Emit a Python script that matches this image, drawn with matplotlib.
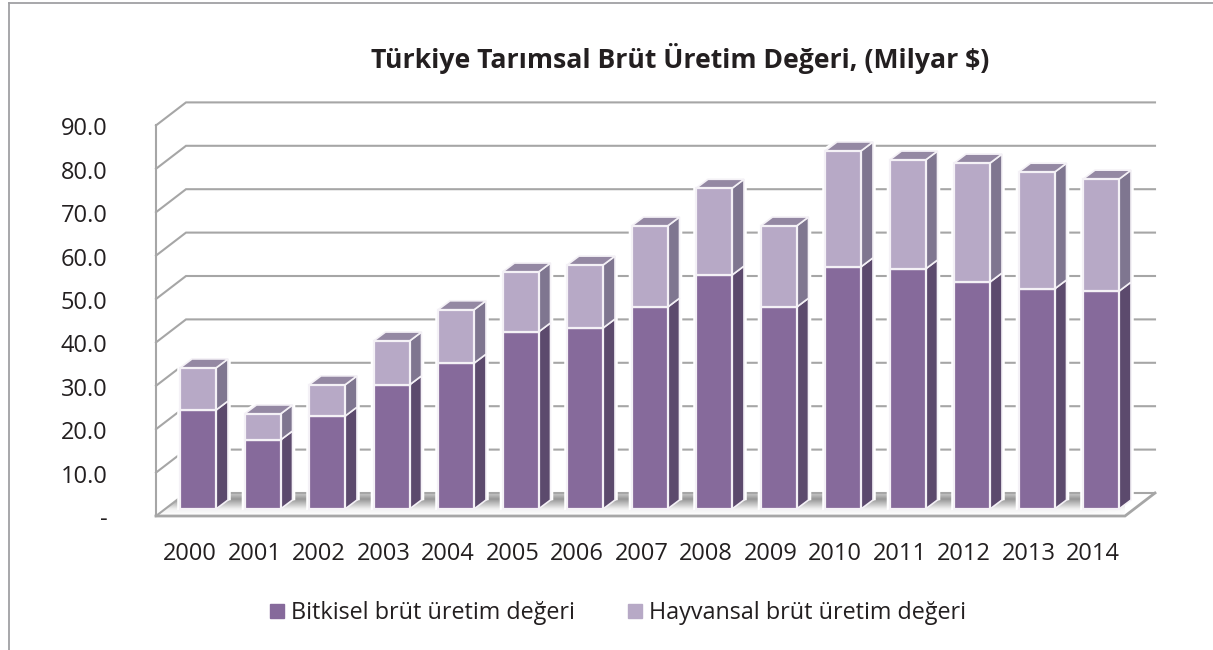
import matplotlib
matplotlib.use("Agg")
import matplotlib.pyplot as plt
import numpy as np
from matplotlib.lines import Line2D
from matplotlib.patches import Polygon
from matplotlib.transforms import ScaledTranslation

plt.rcParams['font.family'] = ['Open Sans', 'DejaVu Sans']

# chart values
years = ["2000", "2001", "2002", "2003", "2004", "2005", "2006", "2007",
         "2008", "2009", "2010", "2011", "2012", "2013", "2014"]
bitkisel = [22.8, 15.9, 21.4, 28.6, 33.6, 40.8, 41.7, 46.5,
            53.9, 46.5, 55.8, 55.3, 52.3, 50.7, 50.2]
hayvansal = [9.7, 6.0, 7.2, 10.1, 12.3, 13.8, 14.5, 18.7,
             20.0, 18.7, 26.7, 25.1, 27.4, 26.9, 25.8]
y_levels = [0, 10, 20, 30, 40, 50, 60, 70, 80, 90]
y_labels = ["-", "10.0", "20.0", "30.0", "40.0", "50.0", "60.0", "70.0", "80.0", "90.0"]
title = "Türkiye Tarımsal Brüt Üretim Değeri, (Milyar $)"
names = ["Bitkisel brüt üretim değeri", "Hayvansal brüt üretim değeri"]

# styles
W, H = 1213, 650
PX_X = 64.5      # pixels per category
PX_Y = 4.34      # pixels per value unit
BASE_PX = 509    # bar base row
DARK, DARK_SIDE = "#866a9b", "#5c4a6d"
LIGHT, LIGHT_SIDE, LIGHT_TOP = "#b7a9c6", "#7f7690", "#9488a3"
GRID = "#a6a6a6"
EDGE = "#f4f1f6"
TEXT = "#231f20"

fig = plt.figure(figsize=(W / 100, H / 100), dpi=100)
fig.patch.set_facecolor("white")

# plot area in pixels: floor front edge to the top of the back wall
left, right, bottom, top = 156, 1125, 516, 102
ax = fig.add_axes([left / W, 1 - bottom / H, (right - left) / W, (bottom - top) / H])
xlim = ((left - 198) / PX_X, (right - 198) / PX_X)
ylim = ((BASE_PX - bottom) / PX_Y, (BASE_PX - top) / PX_Y)
ax.patch.set_alpha(0)
for s in ax.spines.values():
    s.set_visible(False)

y0 = ylim[0]  # value coordinate of the front floor edge
x_lo, x_hi = xlim
wall_dx = 30 / PX_X
wall_dy = 23 / PX_Y

# floor shadow: gray band near the back, gone by the front edge and the right end
rows = np.interp(np.linspace(0, 23, 46), [0, 6, 16, 23], [0.28, 0.55, 0.07, 0.0])
fade = np.interp(np.linspace(left, right + 30, 400), [left, 1090, 1150, right + 30], [1, 1, 0.15, 0.1])
shade = np.zeros((46, 400, 4))
shade[..., :3] = 0.25
shade[..., 3] = np.outer(rows, fade)
floor = ax.imshow(shade, extent=(x_lo, x_hi + wall_dx, y0, y0 + wall_dy),
                  aspect="auto", origin="upper", zorder=1)
floor_poly = Polygon([(x_lo, y0), (x_lo + wall_dx, y0 + wall_dy),
                      (x_hi + wall_dx, y0 + wall_dy), (x_hi, y0)],
                     closed=True, fc="none", ec="none")
ax.add_patch(floor_poly)
floor.set_clip_path(floor_poly)
ax.set_xlim(xlim)
ax.set_ylim(ylim)

# back wall gridlines and left wall diagonals
for v in y_levels:
    yy = y0 + v
    ax.plot([x_lo, x_lo + wall_dx, x_hi + wall_dx], [yy, yy + wall_dy, yy + wall_dy],
            color=GRID, lw=1.5, clip_on=False, zorder=2, solid_joinstyle="miter")
ax.plot([x_lo, x_lo], [y0, y0 + 90], color=GRID, lw=1.5, clip_on=False, zorder=2)
ax.plot([x_lo, x_hi, x_hi + wall_dx], [y0, y0, y0 + wall_dy], color=GRID, lw=2, clip_on=False,
        zorder=2, solid_joinstyle="miter")

# bars
bw = 36 / PX_X
ddx = 12 / PX_X
ddy = 9 / PX_Y
x = np.arange(len(years))
bit = np.array(bitkisel)
hay = np.array(hayvansal)
ax.bar(x, bit, width=bw, color=DARK, edgecolor=EDGE, linewidth=1.6, zorder=5)
ax.bar(x, hay, width=bw, bottom=bit, color=LIGHT, edgecolor=EDGE, linewidth=1.6, zorder=5)


def side(xc, lo, hi, color):
    xr = xc + bw / 2
    ax.add_patch(Polygon([(xr, lo), (xr + ddx, lo + ddy), (xr + ddx, hi + ddy), (xr, hi)],
                         closed=True, fc=color, ec=EDGE, lw=1.2, zorder=4, clip_on=False))


for xc, a, b in zip(x, bit, hay):
    t = a + b
    xl, xr = xc - bw / 2, xc + bw / 2
    # white halo that interrupts the gridlines around each bar
    ax.add_patch(Polygon([(xl, 0.5), (xr + ddx, 0.5 + ddy), (xr + ddx, t + ddy), (xl + ddx, t + ddy), (xl, t)],
                         closed=True, fc="white", ec="white", lw=4, zorder=3, clip_on=False))
    side(xc, 0, a, DARK_SIDE)
    side(xc, a, t, LIGHT_SIDE)
    ax.add_patch(Polygon([(xl, t), (xr, t), (xr + ddx, t + ddy), (xl + ddx, t + ddy)],
                         closed=True, fc=LIGHT_TOP, ec=EDGE, lw=1.2, zorder=4, clip_on=False))

# axis labels
ax.set_xticks(x, years)
ax.set_yticks([y0 + v for v in y_levels], y_labels)
ax.tick_params(axis="x", length=0, pad=19, labelsize=17, labelcolor=TEXT)
ax.tick_params(axis="y", length=0, pad=35, labelsize=17, labelcolor=TEXT)
x_shift = ScaledTranslation(-8 / 100, 0, fig.dpi_scale_trans)
y_shift = ScaledTranslation(0, -1 / 100, fig.dpi_scale_trans)
for lab in ax.get_xticklabels():
    lab.set_transform(lab.get_transform() + x_shift)
for lab in ax.get_yticklabels():
    lab.set_transform(lab.get_transform() + y_shift)

fig.text(680 / W, 1 - 58 / H, title, fontsize=19.2, fontweight="bold",
         ha="center", va="center", color=TEXT)

handles = [Line2D([], [], ls="", marker="s", ms=9.4, color=DARK),
           Line2D([], [], ls="", marker="s", ms=9.4, color=LIGHT)]
fig.legend(handles, names, loc="center", bbox_to_anchor=(618 / W, 1 - 613 / H), ncol=2,
           frameon=False, fontsize=16.8, handlelength=0.6, handletextpad=0.3,
           columnspacing=2.3, labelcolor=TEXT, borderpad=0, borderaxespad=0)

# outer chart frame, only the top and left edges show
for xs, ys in [((9, 9), (3, H)), ((9, W), (3, 3))]:
    fig.add_artist(Line2D([v / W for v in xs], [1 - v / H for v in ys], color="#a0a0a4", lw=1.3))

fig.savefig("out.png", dpi=100)
